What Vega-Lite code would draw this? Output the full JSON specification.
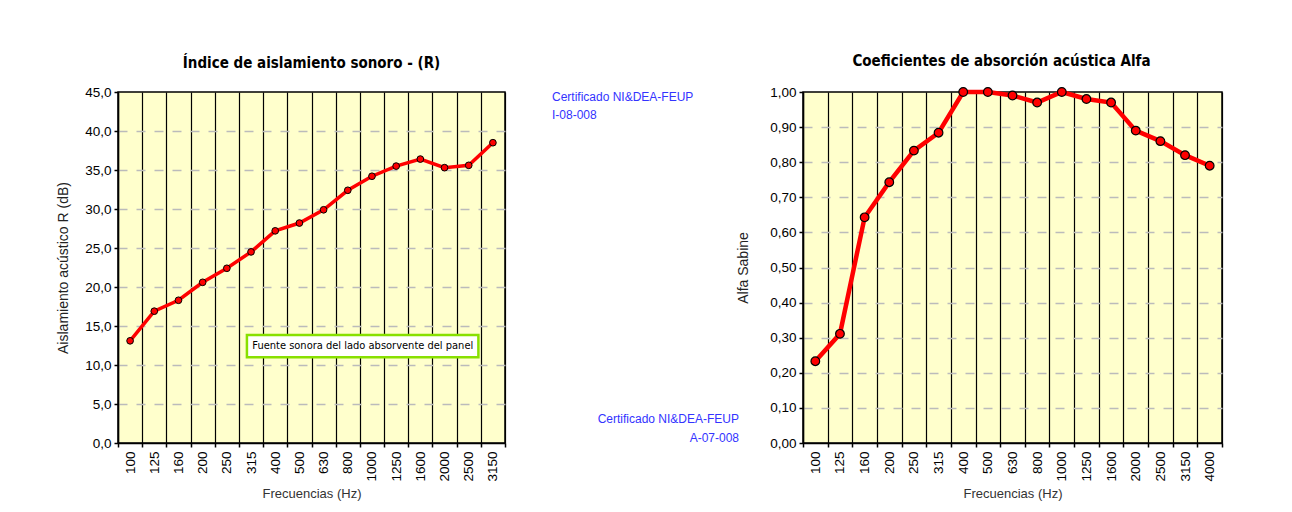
{
  "$schema": "https://vega.github.io/schema/vega-lite/v6.json",
  "background": "white",
  "padding": {"left": 55, "top": 53, "right": 0, "bottom": 0},
  "spacing": 298,
  "bounds": "flush",
  "datasets": {
    "r": [
      {"freq": "100", "R": 13.1},
      {"freq": "125", "R": 16.9},
      {"freq": "160", "R": 18.3},
      {"freq": "200", "R": 20.6},
      {"freq": "250", "R": 22.4},
      {"freq": "315", "R": 24.5},
      {"freq": "400", "R": 27.2},
      {"freq": "500", "R": 28.2},
      {"freq": "630", "R": 29.9},
      {"freq": "800", "R": 32.4},
      {"freq": "1000", "R": 34.2},
      {"freq": "1250", "R": 35.5},
      {"freq": "1600", "R": 36.4},
      {"freq": "2000", "R": 35.3},
      {"freq": "2500", "R": 35.6},
      {"freq": "3150", "R": 38.5}
    ],
    "alfa": [
      {"freq": "100", "a": 0.233},
      {"freq": "125", "a": 0.311},
      {"freq": "160", "a": 0.643},
      {"freq": "200", "a": 0.743},
      {"freq": "250", "a": 0.833},
      {"freq": "315", "a": 0.884},
      {"freq": "400", "a": 1.0},
      {"freq": "500", "a": 1.0},
      {"freq": "630", "a": 0.99},
      {"freq": "800", "a": 0.97},
      {"freq": "1000", "a": 1.0},
      {"freq": "1250", "a": 0.98},
      {"freq": "1600", "a": 0.97},
      {"freq": "2000", "a": 0.89},
      {"freq": "2500", "a": 0.86},
      {"freq": "3150", "a": 0.82},
      {"freq": "4000", "a": 0.79}
    ]
  },
  "config": {
    "font": "Liberation Sans",
    "view": {"fill": "#FFFFCC", "stroke": "black", "strokeWidth": 1.5},
    "axis": {
      "labelFont": "Liberation Sans",
      "labelColor": "black",
      "titleFont": "Liberation Sans",
      "titleFontWeight": "normal",
      "domainColor": "black",
      "domainWidth": 1.5,
      "tickColor": "black",
      "tickSize": 4,
      "tickWidth": 1.5
    },
    "title": {
      "font": "DejaVu Sans Condensed",
      "fontSize": 15,
      "fontWeight": "bold",
      "color": "black",
      "anchor": "middle"
    }
  },
  "hconcat": [
    {
      "width": 387,
      "height": 351,
      "title": {"text": "Índice de aislamiento sonoro - (R)", "offset": 14},
      "data": {"name": "r"},
      "encoding": {
        "x": {
          "field": "freq",
          "type": "ordinal",
          "sort": null,
          "scale": {"paddingInner": 0, "paddingOuter": 0},
          "axis": {
            "title": "Frecuencias (Hz)",
            "titleFontSize": 13,
            "titleColor": "#333333",
            "titlePadding": 6,
            "labelAngle": -90,
            "labelFontSize": 13.5,
            "labelPadding": 4,
            "tickBand": "extent",
            "grid": true,
            "gridColor": "black",
            "gridWidth": 1.2,
            "gridOpacity": 1
          }
        },
        "y": {
          "field": "R",
          "type": "quantitative",
          "scale": {"domain": [0, 45], "nice": false},
          "axis": {
            "title": "Aislamiento acústico R (dB)",
            "titleFontSize": 14,
            "titleColor": "#222222",
            "titlePadding": 14,
            "values": [0, 5, 10, 15, 20, 25, 30, 35, 40, 45],
            "labelExpr": "replace(format(datum.value, '.1f'), '.', ',')",
            "labelFontSize": 13.5,
            "labelPadding": 3,
            "grid": true,
            "gridColor": "#BBBBBB",
            "gridDash": [9, 9],
            "gridWidth": 1.5,
            "gridOpacity": {"condition": {"test": "datum.value == 45 || datum.value == 0", "value": 0}, "value": 1}
          }
        }
      },
      "layer": [
        {"mark": {"type": "line", "color": "#FF0000", "strokeWidth": 3.5}},
        {"mark": {"type": "point", "filled": true, "fill": "#FF0000", "stroke": "black", "strokeWidth": 1, "size": 45, "opacity": 1}},
        {
          "transform": [{"filter": "datum.freq == '100'"}],
          "mark": {"type": "rect", "fill": "white", "stroke": "#88E000", "strokeWidth": 2.5},
          "encoding": {
            "x": {"datum": "315", "bandPosition": 0.33},
            "x2": {"datum": "2500", "bandPosition": 0.9},
            "y": {"datum": 13.85},
            "y2": {"datum": 11.0}
          }
        },
        {
          "transform": [{"filter": "datum.freq == '100'"}],
          "mark": {"type": "text", "text": "Fuente sonora del lado absorvente del panel", "font": "DejaVu Sans Condensed", "fontSize": 11, "color": "black", "align": "center", "baseline": "middle"},
          "encoding": {
            "x": {"datum": "1000", "bandPosition": 0.12},
            "y": {"datum": 12.4}
          }
        },
        {
          "transform": [{"filter": "datum.freq == '100'"}],
          "mark": {"type": "text", "text": ["Certificado NI&DEA-FEUP", "I-08-008"], "fontSize": 12, "color": "#3333FF", "align": "left", "baseline": "top", "lineHeight": 18, "dx": 47, "dy": 0},
          "encoding": {
            "x": {"datum": "3150", "bandPosition": 1},
            "y": {"datum": 45}
          }
        }
      ]
    },
    {
      "width": 419,
      "height": 351,
      "title": {"text": "Coeficientes de absorción acústica Alfa", "offset": 14, "dx": -11},
      "data": {"name": "alfa"},
      "encoding": {
        "x": {
          "field": "freq",
          "type": "ordinal",
          "sort": null,
          "scale": {"paddingInner": 0, "paddingOuter": 0},
          "axis": {
            "title": "Frecuencias (Hz)",
            "titleFontSize": 13,
            "titleColor": "#333333",
            "titlePadding": 6,
            "labelAngle": -90,
            "labelFontSize": 13.5,
            "labelPadding": 4,
            "tickBand": "extent",
            "grid": true,
            "gridColor": "black",
            "gridWidth": 1.2,
            "gridOpacity": 1
          }
        },
        "y": {
          "field": "a",
          "type": "quantitative",
          "scale": {"domain": [0, 1], "nice": false},
          "axis": {
            "title": "Alfa Sabine",
            "titleFontSize": 14,
            "titleColor": "#222222",
            "titlePadding": 19,
            "values": [0, 0.1, 0.2, 0.3, 0.4, 0.5, 0.6, 0.7, 0.8, 0.9, 1],
            "labelExpr": "replace(format(datum.value, '.2f'), '.', ',')",
            "labelFontSize": 13.5,
            "labelPadding": 3,
            "grid": true,
            "gridColor": "#BBBBBB",
            "gridDash": [9, 9],
            "gridWidth": 1.5,
            "gridOpacity": {"condition": {"test": "datum.value >= 0.999 || datum.value == 0", "value": 0}, "value": 1}
          }
        }
      },
      "layer": [
        {"mark": {"type": "line", "color": "#FF0000", "strokeWidth": 4.5}},
        {"mark": {"type": "point", "filled": true, "fill": "#FF0000", "stroke": "black", "strokeWidth": 1.2, "size": 75, "opacity": 1}},
        {
          "transform": [{"filter": "datum.freq == '100'"}],
          "mark": {"type": "text", "text": ["Certificado NI&DEA-FEUP", "A-07-008"], "fontSize": 12, "color": "#3333FF", "align": "right", "baseline": "top", "lineHeight": 19, "dx": -64, "dy": -29},
          "encoding": {
            "x": {"datum": "100", "bandPosition": 0},
            "y": {"datum": 0}
          }
        }
      ]
    }
  ]
}
